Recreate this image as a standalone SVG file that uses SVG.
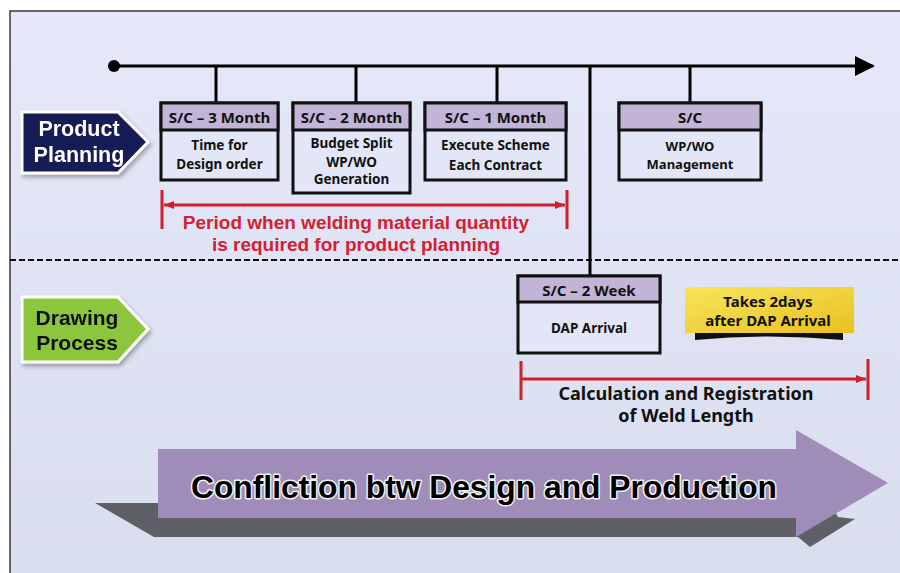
<svg xmlns="http://www.w3.org/2000/svg" width="900" height="573" viewBox="0 0 900 573">
  <defs>
    <linearGradient id="bg" x1="0" y1="0" x2="0" y2="1">
      <stop offset="0" stop-color="#E4E8F8"/>
      <stop offset="1" stop-color="#D9DEEE"/>
    </linearGradient>
    <linearGradient id="yel" x1="0" y1="0" x2="1" y2="1">
      <stop offset="0" stop-color="#F7E55A"/>
      <stop offset="1" stop-color="#E9C021"/>
    </linearGradient>
    <filter id="sh" x="-20%" y="-20%" width="150%" height="150%">
      <feDropShadow dx="2" dy="3" stdDeviation="2" flood-color="#000" flood-opacity="0.3"/>
    </filter>
    <marker id="tl" viewBox="0 0 10 10" refX="9" refY="5" markerWidth="20" markerHeight="20" markerUnits="userSpaceOnUse" orient="auto">
      <path d="M0,0 L10,5 L0,10 Z" fill="#000"/>
    </marker>
    <marker id="ra" viewBox="0 0 10 10" refX="10" refY="5" markerWidth="10" markerHeight="10" markerUnits="userSpaceOnUse" orient="auto-start-reverse">
      <path d="M0,1 L10,5 L0,9 Z" fill="#D0202E"/>
    </marker>
    <style>
      .box{fill:#E3E6F6;stroke:#111;stroke-width:3}
      .hdr{fill:#C1B4D6;stroke:#111;stroke-width:3}
      .t{font-family:"Noto Sans","Liberation Sans",sans-serif;font-weight:bold;text-anchor:middle;fill:#111}
      .tl{font-family:"Liberation Sans",Arial,sans-serif;font-weight:bold;text-anchor:middle;fill:#111}
      .h{font-size:15px}
      .b{font-size:13.5px}
      .ln{stroke:#000;stroke-width:3;fill:none}
      .red{stroke:#D0202E;stroke-width:3;fill:none}
      .rt{font-family:"Liberation Sans",Arial,sans-serif;font-weight:bold;text-anchor:middle;fill:#D42032;font-size:19px}
    </style>
  </defs>

  <rect x="0" y="0" width="900" height="573" fill="#fff"/>
  <rect x="10" y="11" width="895" height="570" fill="url(#bg)" stroke="#3a3a3a" stroke-width="1.5"/>

  <!-- dashed separator -->
  <line x1="10" y1="260" x2="900" y2="260" stroke="#111" stroke-width="2" stroke-dasharray="6 3"/>

  <g id="connectors">
    <circle cx="114" cy="66" r="6" fill="#000"/>
    <line class="ln" x1="114" y1="66" x2="873" y2="66" marker-end="url(#tl)"/>
    <line class="ln" x1="216" y1="66" x2="216" y2="103"/>
    <line class="ln" x1="356" y1="66" x2="356" y2="103"/>
    <line class="ln" x1="497" y1="66" x2="497" y2="103"/>
    <line class="ln" x1="690" y1="66" x2="690" y2="103"/>
    <line class="ln" x1="590" y1="66" x2="590" y2="276"/>
  </g>

  <g id="tag-product" filter="url(#sh)">
    <polygon points="22,112 118,112 148,142 118,173 22,173" fill="#161A55" stroke="#fff" stroke-width="3"/>
    <text class="tl" x="79" y="136" font-size="21.5" style="fill:#fff">Product</text>
    <text class="tl" x="79" y="162" font-size="21.5" style="fill:#fff">Planning</text>
  </g>

  <g id="tag-drawing" filter="url(#sh)">
    <polygon points="22,297 118,297 148,329 118,362 22,362" fill="#8CC63E" stroke="#fff" stroke-width="3"/>
    <text class="tl" x="77" y="325" font-size="21">Drawing</text>
    <text class="tl" x="77" y="350" font-size="21">Process</text>
  </g>

  <g id="n1">
    <rect class="box" x="161" y="103" width="117" height="77"/>
    <rect class="hdr" x="161" y="103" width="117" height="27"/>
    <text class="t h" x="219.5" y="123">S/C – 3 Month</text>
    <text class="t b" x="219.5" y="150">Time for</text>
    <text class="t b" x="219.5" y="169">Design order</text>
  </g>

  <g id="n2">
    <rect class="box" x="293" y="103" width="117" height="90"/>
    <rect class="hdr" x="293" y="103" width="117" height="27"/>
    <text class="t h" x="351.5" y="123">S/C – 2 Month</text>
    <text class="t b" x="351.5" y="148">Budget Split</text>
    <text class="t b" x="351.5" y="167">WP/WO</text>
    <text class="t b" x="351.5" y="184">Generation</text>
  </g>

  <g id="n3">
    <rect class="box" x="425" y="103" width="141" height="77"/>
    <rect class="hdr" x="425" y="103" width="141" height="27"/>
    <text class="t h" x="495.5" y="123">S/C – 1 Month</text>
    <text class="t b" x="495.5" y="150">Execute Scheme</text>
    <text class="t b" x="495.5" y="170">Each Contract</text>
  </g>

  <g id="n4">
    <rect class="box" x="619" y="103" width="142" height="77"/>
    <rect class="hdr" x="619" y="103" width="142" height="27"/>
    <text class="t h" x="690" y="123">S/C</text>
    <text class="t" x="690" y="151" font-size="13">WP/WO</text>
    <text class="t" x="690" y="169" font-size="13">Management</text>
  </g>

  <g id="n5">
    <rect class="box" x="518" y="276" width="142" height="77"/>
    <rect class="hdr" x="518" y="276" width="142" height="26"/>
    <text class="t h" x="589" y="296">S/C – 2 Week</text>
    <text class="t b" x="589" y="333">DAP Arrival</text>
  </g>

  <g id="period1">
    <line class="red" x1="162" y1="190" x2="162" y2="229"/>
    <line class="red" x1="567" y1="190" x2="567" y2="229"/>
    <line class="red" x1="164" y1="205" x2="565" y2="205" marker-start="url(#ra)" marker-end="url(#ra)"/>
    <text class="rt" x="356" y="229">Period when welding material quantity</text>
    <text class="rt" x="356" y="251">is required for product planning</text>
  </g>

  <g id="note">
    <path d="M695,332 L843,332 L843,340 Q769,333 695,340 Z" fill="#111"/>
    <rect x="685" y="287" width="169" height="46" fill="url(#yel)"/>
    <text class="t" x="768" y="307" font-size="15">Takes 2days</text>
    <text class="t" x="768" y="326" font-size="15">after DAP Arrival</text>
  </g>

  <g id="period2">
    <line class="red" x1="521" y1="361" x2="521" y2="400"/>
    <line class="red" x1="868" y1="359" x2="868" y2="400"/>
    <line class="red" x1="521" y1="379" x2="866" y2="379" marker-end="url(#ra)"/>
    <text class="t" x="686" y="400" font-size="18">Calculation and Registration</text>
    <text class="t" x="686" y="422" font-size="18">of Weld Length</text>
  </g>

  <g id="big-arrow">
    <polygon points="95,503 154,537 798,537 810,547 855,519 838,517 830,503" fill="#5E6066"/>
    <polygon points="158,449 796,449 796,430 888,483 796,537 796,518 158,518" fill="#A08CB8"/>
    <text x="484" y="498" font-family="'Liberation Sans',Arial,sans-serif" font-weight="bold" font-size="32" text-anchor="middle" textLength="586" lengthAdjust="spacingAndGlyphs" fill="#000" stroke="#f2f2f2" stroke-width="3" paint-order="stroke" stroke-linejoin="round">Confliction btw Design and Production</text>
  </g>
</svg>
